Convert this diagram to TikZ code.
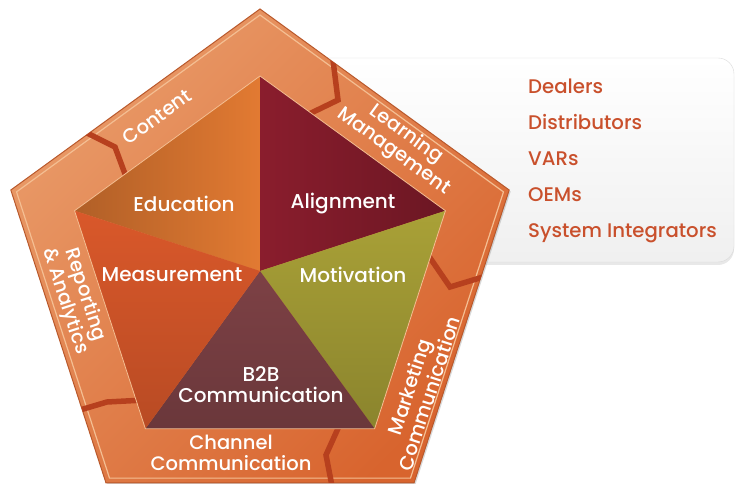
\documentclass[tikz,border=0pt]{standalone}
\usepackage{fontspec}
\setmainfont{Poppins}[UprightFont=* Medium]
\usetikzlibrary{calc,positioning,shadows}

\definecolor{bandlight}{HTML}{E99A68}
\definecolor{bandmid}{HTML}{E57E3E}
\definecolor{banddark}{HTML}{D8642E}
\definecolor{bandedge}{HTML}{B9592C}
\definecolor{bandline}{HTML}{F4BE92}
\definecolor{notchred}{HTML}{B7401E}
\definecolor{eduorange}{HTML}{E27A32}
\definecolor{alignred}{HTML}{8A1D2D}
\definecolor{motolive}{HTML}{A9A137}
\definecolor{btobbrown}{HTML}{7D4145}
\definecolor{measred}{HTML}{D9582A}
\definecolor{listred}{HTML}{C9502C}

\begin{document}
\begin{tikzpicture}[
		x=1pt, y=1pt,
		callout/.style     = { rectangle, rounded corners=16pt, draw=black!15,
			top color=white, bottom color=black!6, minimum width=434pt,
			minimum height=204pt, inner sep=0pt,
			drop shadow={opacity=.18, shadow xshift=0pt, shadow yshift=-3pt} },
		sector/.style      = { line join=round },
		sectorlabel/.style = { text=white, align=center, inner sep=0pt,
			font=\fontsize{20}{21}\selectfont },
		bandlabel/.style   = { text=white, align=center, inner sep=0pt,
			font=\fontsize{19.5}{21}\selectfont },
		member/.style      = { text=listred, inner sep=0pt, anchor=base west,
			font=\fontsize{19.7}{22}\selectfont },
		notch/.style       = { draw=notchred, line width=5.5pt },
	]
	\useasboundingbox (0,0) rectangle (736,484);
	% centre and corners of the two pentagons
	\coordinate (C) at (260,213);
	\foreach \k/\a in {1/90,2/162,3/234,4/306,5/18} {
		\coordinate (o\k) at ($(C)+(\a:262)$);
		\coordinate (w\k) at ($(C)+(\a:256)$);
		\coordinate (i\k) at ($(C)+(\a:195)$);
	}
	% callout box with the partner list
	\node [callout] (box) at (517,324) {};
	\node [member] (dealers) at (528,390) {Dealers};
	\node [below=36pt of dealers.base west, member] (distributors) {Distributors};
	\node [below=36pt of distributors.base west, member] (vars) {VARs};
	\node [below=36pt of vars.base west, member] (oems) {OEMs};
	\node [below=36pt of oems.base west, member] (integrators) {System Integrators};
	% outer band
	\path [drop shadow={opacity=.3, shadow xshift=1.5pt, shadow yshift=-1.5pt},
		top color=bandlight, middle color=bandmid, bottom color=banddark,
		shading angle=45] (o1) -- (o2) -- (o3) -- (o4) -- (o5) -- cycle;
	\draw [bandedge, line width=1pt] (o1) -- (o2) -- (o3) -- (o4) -- (o5) -- cycle;
	\draw [bandline, line width=1.2pt] (w1) -- (w2) -- (w3) -- (w4) -- (w5) -- cycle;
	% notches between the band parts
	\begin{scope}
		\clip (o1) -- (o2) -- (o3) -- (o4) -- (o5) -- cycle;
		\draw [notch] (83,353) -- (115,337) -- (128,302);
		\draw [notch] (333,424) -- (338,384) -- (305,368);
		\draw [notch] (483,207) -- (450,197) -- (426,232);
		\draw [notch] (340,60) -- (326,29) -- (332,-2);
		\draw [notch] (80,74) -- (107,82) -- (145,84);
	\end{scope}
	% five sectors
	\shade [sector, left color=eduorange!78!black, right color=eduorange] (C) -- (i2) -- (i1) -- cycle;
	\shade [sector, left color=alignred, right color=alignred!78!black] (C) -- (i1) -- (i5) -- cycle;
	\shade [sector, top color=motolive, bottom color=motolive!82!black] (C) -- (i5) -- (i4) -- cycle;
	\shade [sector, top color=btobbrown, bottom color=btobbrown!85!black] (C) -- (i4) -- (i3) -- cycle;
	\shade [sector, top color=measred, bottom color=measred!85!black] (C) -- (i3) -- (i2) -- cycle;
	\draw [bandline, line width=.8pt] (i1) -- (i2) -- (i3) -- (i4) -- (i5) -- cycle;
	% sector labels
	\node [sectorlabel] (education) at (184,280) {Education};
	\node [sectorlabel] (alignment) at (343,280) {Alignment};
	\node [sectorlabel] (measurement) at (172,209) {Measurement};
	\node [sectorlabel] (motivation) at (353,209) {Motivation};
	\node [sectorlabel] (btob) at (261,99) {B2B\\Communication};
	% band labels
	\node [bandlabel, rotate=36] (content) at (157,367) {Content};
	\node [bandlabel, rotate=-36] (learning) at (400,341) {Learning\\Management};
	\node [bandlabel, rotate=72] (marketing) at (419,94) {Marketing\\Communication};
	\node [bandlabel] (channel) at (231,31) {Channel\\Communication};
	\node [bandlabel, rotate=-72] (reporting) at (75,186) {Reporting\\\& Analytics};
\end{tikzpicture}
\end{document}
